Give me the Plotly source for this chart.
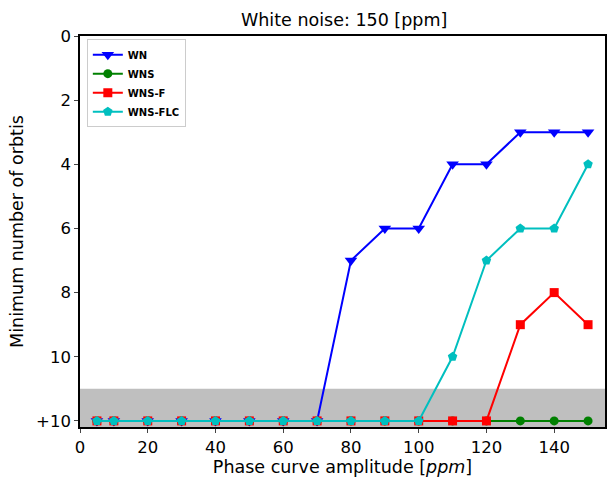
import plotly.graph_objects as go

x = [5, 10, 20, 30, 40, 50, 60, 70, 80, 90, 100, 110, 120, 130, 140, 150]
wn = [12, 12, 12, 12, 12, 12, 12, 12, 7, 6, 6, 4, 4, 3, 3, 3]
wns = [12] * 16
wns_f = [12, 12, 12, 12, 12, 12, 12, 12, 12, 12, 12, 12, 12, 9, 8, 9]
wns_flc = [12, 12, 12, 12, 12, 12, 12, 12, 12, 12, 12, 10, 7, 6, 6, 4]

ytick_vals = [0, 2, 4, 6, 8, 10, 12]
ytick_text = ["0", "2", "4", "6", "8", "10", "+10"]
xtick_vals = [0, 20, 40, 60, 80, 100, 120, 140]

fig = go.Figure()
series = [
    ("WN", wn, "#0000ff", "triangle-down", 11),
    ("WNS", wns, "#008000", "circle", 9),
    ("WNS-F", wns_f, "#ff0000", "square", 9),
    ("WNS-FLC", wns_flc, "#00bfbf", "pentagon", 10),
]
for name, ys, col, sym, sz in series:
    fig.add_trace(go.Scatter(
        x=x, y=ys, name=name, mode="lines+markers",
        line=dict(color=col, width=2),
        marker=dict(symbol=sym, size=sz, color=col, line=dict(width=0)),
    ))

fig.add_shape(type="rect", xref="paper", yref="y", x0=0, x1=1, y0=11, y1=12.19,
              fillcolor="#bfbfbf", line=dict(width=0), layer="below")

fig.update_layout(
    width=608, height=485,
    margin=dict(l=80, r=1, t=36, b=58),
    paper_bgcolor="white", plot_bgcolor="white",
    font=dict(family="DejaVu Sans", size=16.5, color="black"),
    title=dict(text="White noise: 150 [ppm]", x=0.566, xanchor="center", y=0.96, yanchor="middle",
               font=dict(size=17.5)),
    showlegend=True,
    legend=dict(x=0.013, y=0.992, xanchor="left", yanchor="top",
                bgcolor="rgba(255,255,255,0.8)", bordercolor="#cccccc", borderwidth=1,
                font=dict(size=10, family="DejaVu Sans", weight="bold"),
                tracegroupgap=0, itemwidth=30),
    xaxis=dict(range=[0, 155], tickvals=xtick_vals, ticks="outside", ticklen=4,
               showline=True, linecolor="black", linewidth=1.5, mirror=True,
               showgrid=False, zeroline=False,
               title=dict(text="Phase curve amplitude [<i>ppm</i>]", font=dict(size=17.5), standoff=4),
               tickfont=dict(size=16.5)),
    yaxis=dict(range=[12.19, 0], tickvals=ytick_vals, ticktext=ytick_text, ticks="outside", ticklen=4,
               showline=True, linecolor="black", linewidth=1.5, mirror=True,
               showgrid=False, zeroline=False,
               title=dict(text="Minimum number of orbtis", font=dict(size=17.5), standoff=8),
               tickfont=dict(size=16.5)),
)

fig.write_html("out.html")
